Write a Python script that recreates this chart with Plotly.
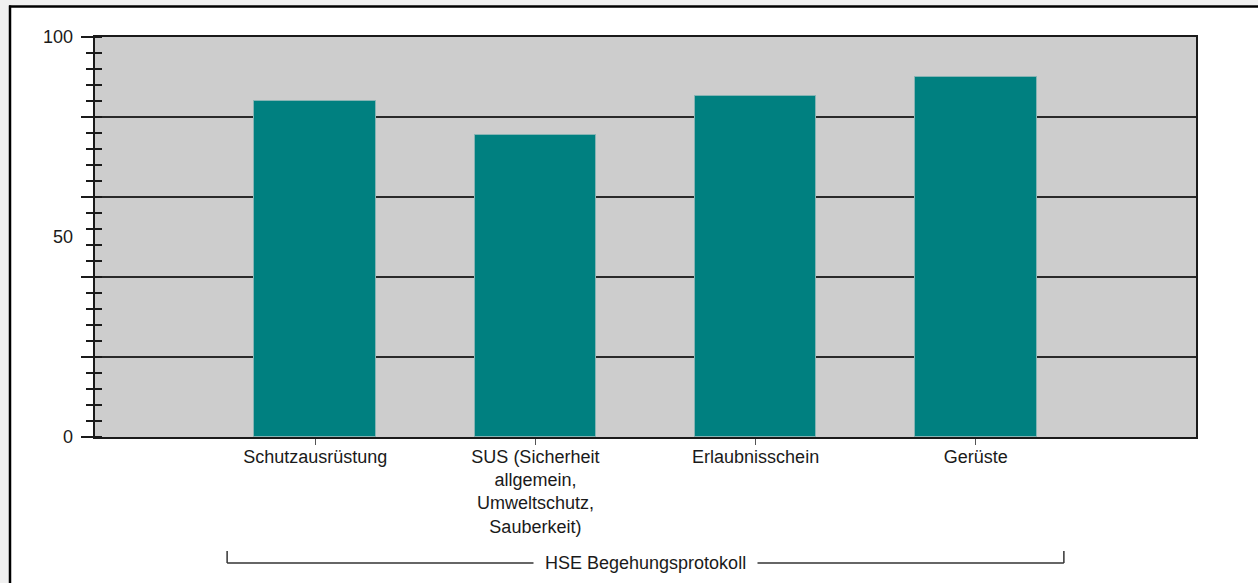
import plotly.graph_objects as go

# ---- data ----
categories = [
    "Schutzausrüstung",
    "SUS (Sicherheit<br>allgemein,<br>Umweltschutz,<br>Sauberkeit)",
    "Erlaubnisschein",
    "Gerüste",
]
values = [83.9, 75.4, 85.3, 89.9]
group_label = "HSE Begehungsprotokoll"
y_label_vals = [0, 50, 100]
y_grid_vals = [0, 20, 40, 60, 80, 100]
positions = list(range(1, len(categories) + 1))

# ---- layout geometry (pixels) ----
W, H = 1258, 583
L, R, T, B = 95, 62, 37, 146
PW = W - L - R
PH = H - T - B


def px_x(p):
    return (p - L) / PW


def px_y(p):
    return (H - B - p) / PH


FONT = "Liberation Sans, Arial, sans-serif"
TXT = "#1a1a1a"
FS = 18

fig = go.Figure()
fig.add_trace(
    go.Bar(
        x=positions,
        y=values,
        width=0.553,
        marker=dict(color="#008080", line=dict(color="#86b4b4", width=1)),
        hoverinfo="y",
        yaxis="y",
    )
)
# invisible trace to activate the overlay axis
fig.add_trace(
    go.Scatter(x=[positions[0]], y=[0], mode="markers", marker=dict(opacity=0),
               yaxis="y2", showlegend=False, hoverinfo="skip")
)

shapes = []
# light grey surround outside the frame
shapes.append(dict(type="rect", xref="paper", yref="paper",
                   x0=px_x(0), x1=px_x(9), y0=px_y(H), y1=px_y(0),
                   fillcolor="#f0f0f0", line=dict(width=0), layer="below"))
shapes.append(dict(type="rect", xref="paper", yref="paper",
                   x0=px_x(0), x1=px_x(W), y0=px_y(5.5), y1=px_y(0),
                   fillcolor="#f0f0f0", line=dict(width=0), layer="below"))
# black frame lines (top and left)
shapes.append(dict(type="line", xref="paper", yref="paper",
                   x0=px_x(9), x1=px_x(W), y0=px_y(6.5), y1=px_y(6.5),
                   line=dict(color="#000000", width=2.5)))
shapes.append(dict(type="line", xref="paper", yref="paper",
                   x0=px_x(10), x1=px_x(10), y0=px_y(5.5), y1=px_y(H),
                   line=dict(color="#000000", width=2.5)))

# group bracket under the categories
br_left = positions[0] - 0.4
br_right = positions[-1] + 0.4
y_line = px_y(563)
y_top = px_y(551)
shapes.append(dict(type="line", xref="x", yref="paper",
                   x0=br_left, x1=br_right, y0=y_line, y1=y_line,
                   line=dict(color="#333333", width=1.5)))
shapes.append(dict(type="line", xref="x", yref="paper",
                   x0=br_left, x1=br_left, y0=y_line, y1=y_top,
                   line=dict(color="#333333", width=1.5)))
shapes.append(dict(type="line", xref="x", yref="paper",
                   x0=br_right, x1=br_right, y0=y_line, y1=y_top,
                   line=dict(color="#333333", width=1.5)))

fig.update_layout(
    width=W,
    height=H,
    margin=dict(l=L, r=R, t=T, b=B, pad=0),
    paper_bgcolor="#ffffff",
    plot_bgcolor="#cdcdcd",
    showlegend=False,
    bargap=0,
    font=dict(family=FONT, size=FS, color=TXT),
    shapes=shapes,
    annotations=[
        dict(
            x=(br_left + br_right) / 2, y=y_line, xref="x", yref="paper",
            text=group_label, showarrow=False, bgcolor="#ffffff",
            borderpad=11, font=dict(family=FONT, size=FS, color=TXT),
            xanchor="center", yanchor="middle",
        )
    ],
    xaxis=dict(
        range=[0, len(categories) + 1],
        tickmode="array",
        tickvals=positions,
        ticktext=categories,
        ticks="outside",
        ticklen=6,
        tickwidth=1,
        tickcolor="#555555",
        ticklabelstandoff=-4,
        showgrid=False,
        zeroline=False,
        showline=True,
        linecolor="#1a1a1a",
        linewidth=2,
        mirror=True,
        fixedrange=True,
        tickfont=dict(family=FONT, size=FS, color=TXT),
    ),
    yaxis=dict(
        range=[0, 100],
        tickmode="array",
        tickvals=y_grid_vals,
        showticklabels=False,
        ticks="outside",
        ticklen=12,
        tickwidth=2,
        tickcolor="#1a1a1a",
        showgrid=True,
        gridcolor="#2a2a2a",
        gridwidth=2,
        zeroline=False,
        showline=True,
        linecolor="#1a1a1a",
        linewidth=2,
        mirror=True,
        fixedrange=True,
        minor=dict(ticks="outside", ticklen=7, tickwidth=2, dtick=4, tick0=0,
                   tickcolor="#1a1a1a", showgrid=False),
    ),
    yaxis2=dict(
        range=[0, 100],
        overlaying="y",
        side="left",
        tickmode="array",
        tickvals=y_label_vals,
        ticktext=[str(v) for v in y_label_vals],
        ticks="",
        ticklabelstandoff=21,
        showgrid=False,
        zeroline=False,
        showline=False,
        fixedrange=True,
        tickfont=dict(family=FONT, size=FS, color=TXT),
        minor=dict(ticks="inside", ticklen=7, tickwidth=2, dtick=4, tick0=0,
                   tickcolor="#1a1a1a", showgrid=False),
    ),
)

fig.write_html(
    "out.html",
    config={"displayModeBar": False},
    post_script="document.body.style.margin='0';document.body.style.overflow='hidden';",
)
